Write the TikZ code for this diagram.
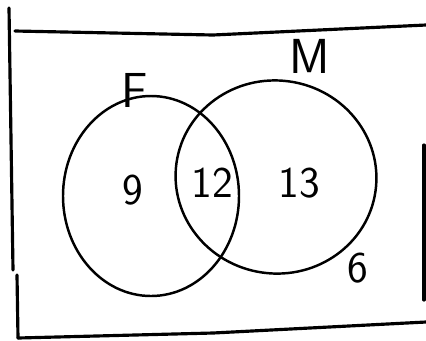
\documentclass[tikz,border=0pt]{standalone}
\usepackage{tikz}
\usetikzlibrary{shapes.geometric, positioning}

\begin{document}
\begin{tikzpicture}[
  set/.style={draw, ellipse, line width=1.4pt, inner sep=0pt},
  frame/.style={line width=1.8pt, line cap=round},
  lbl/.style={font=\sffamily\fontsize{28}{30}\selectfont, inner sep=0pt},
  num/.style={font=\sffamily\fontsize{25}{27}\selectfont, inner sep=0pt}
]
  \useasboundingbox (0,0) rectangle (8.52,-6.8);

  % frame of the universe
  \draw[frame] (0.3,-0.62) -- (4.26,-0.7) -- (8.52,-0.5);
  \draw[frame] (0.18,-0.16) -- (0.26,-5.4);
  \draw[frame] (0.34,-5.5) -- (0.36,-6.76);
  \draw[frame] (0.36,-6.76) -- (4.26,-6.66) -- (8.52,-6.44);
  \draw[frame] (8.48,-2.9) -- (8.48,-6.0);

  \node[set, minimum width=3.52cm, minimum height=4.0cm] (F) at (3.02,-3.92) {};
  \node[set, minimum width=4.02cm, minimum height=3.86cm, rotate=-8] (M) at (5.52,-3.54) {};

  \node[lbl] (fl) at (2.7,-1.8) {F};
  \node[lbl] (ml) at (6.2,-1.12) {M};

  \node[num] (only f) at (2.66,-3.8)  {9};
  \node[num] (both)   at (4.24,-3.66) {12};
  \node[num] (only m) at (5.98,-3.66) {13};
  \node[num] (none)   at (7.16,-5.36) {6};
\end{tikzpicture}
\end{document}
